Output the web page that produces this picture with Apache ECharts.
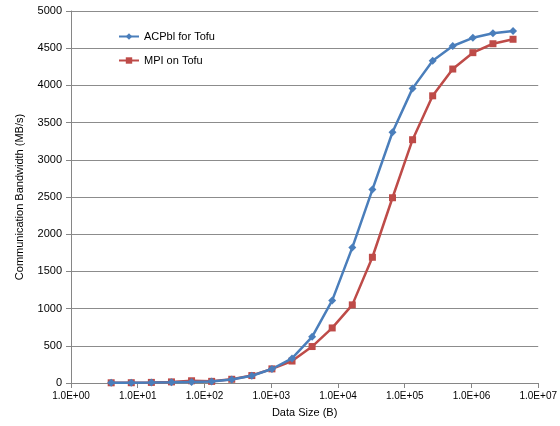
<!DOCTYPE html>
<html><head><meta charset="utf-8">
<script src="https://cdn.jsdelivr.net/npm/echarts@6/dist/echarts.min.js"></script>
<style>html,body{margin:0;padding:0;background:#fff}#c{width:560px;height:426px}</style>
</head><body><div id="c"></div>
<script>
var sizes = [4, 8, 16, 32, 64, 128, 256, 512, 1024, 2048, 4096, 8192, 16384, 32768, 65536, 131072, 262144, 524288, 1048576, 2097152, 4194304];
var acpbl = [2, 3, 6, 10, 15, 20, 48, 98, 188, 330, 620, 1110, 1820, 2600, 3370, 3960, 4330, 4530, 4640, 4700, 4730];
var mpi = [3, 4, 8, 15, 30, 22, 50, 100, 190, 295, 490, 740, 1050, 1690, 2490, 3270, 3860, 4220, 4440, 4560, 4620];
var seriesNames = ['ACPbl for Tofu', 'MPI on Tofu'];
var font = 'Liberation Sans';
function pairs(v){ return sizes.map(function(s,i){ return [s, v[i]]; }); }
var chart = echarts.init(document.getElementById('c'));
chart.setOption({
  animation: false,
  textStyle: { fontFamily: font },
  grid: { left: 71, right: 20, top: 11, bottom: 43, containLabel: false },
  legend: {
    orient: 'vertical', left: 113, top: 26, itemGap: 13,
    itemWidth: 20, itemHeight: 8,
    textStyle: { fontFamily: font, fontSize: 11, color: '#000' },
    data: seriesNames
  },
  xAxis: {
    type: 'log', logBase: 10, min: 1, max: 10000000,
    name: 'Data Size (B)', nameLocation: 'middle', nameGap: 24,
    nameTextStyle: { fontFamily: font, fontSize: 11, color: '#000' },
    axisLine: { lineStyle: { color: '#868686', width: 1 } },
    axisTick: { show: true, length: 5, lineStyle: { color: '#868686' } },
    splitLine: { show: false },
    axisLabel: { fontFamily: font, fontSize: 10, color: '#000', margin: 8,
      formatter: function(v){ var e = Math.round(Math.log10(v)); return '1.0E+' + (e < 10 ? '0' + e : e); } }
  },
  yAxis: {
    type: 'value', min: 0, max: 5000, interval: 500,
    name: 'Communication Bandwidth (MB/s)', nameLocation: 'middle', nameGap: 46,
    nameTextStyle: { fontFamily: font, fontSize: 11, color: '#000' },
    axisLine: { show: true, lineStyle: { color: '#868686', width: 1 } },
    axisTick: { show: true, length: 5, lineStyle: { color: '#868686' } },
    splitLine: { lineStyle: { color: '#8c8c8c', width: 1 } },
    axisLabel: { fontFamily: font, fontSize: 11, color: '#000', margin: 9,
      formatter: function(v){ return String(v); } }
  },
  series: [
    { name: seriesNames[0], type: 'line', data: pairs(acpbl), symbol: 'diamond', symbolSize: 8,
      lineStyle: { color: '#4a7ebb', width: 2.5 }, itemStyle: { color: '#4a7ebb' }, z: 3 },
    { name: seriesNames[1], type: 'line', data: pairs(mpi), symbol: 'rect', symbolSize: 7,
      lineStyle: { color: '#be4b48', width: 2.5 }, itemStyle: { color: '#be4b48' }, z: 2 }
  ]
});
</script></body></html>
